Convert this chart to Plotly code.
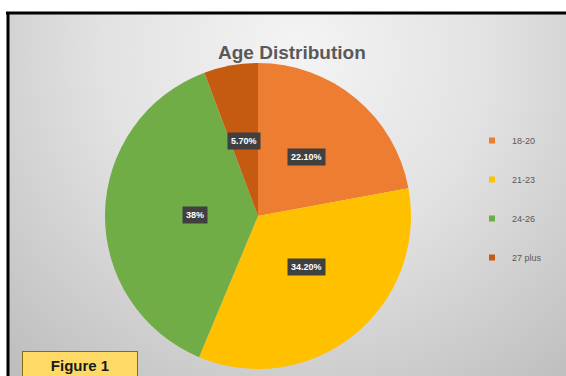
import math
import base64
import plotly.graph_objects as go

# ---- data ----
categories = ["18-20", "21-23", "24-26", "27 plus"]
shares = [22.10, 34.20, 38.0, 5.70]
label_texts = ["22.10%", "34.20%", "38%", "5.70%"]
colors = ["#ED7D31", "#FFC000", "#70AD47", "#C55A11"]
title_text = "Age Distribution"
figure_tag = "Figure 1"

W, H = 566, 376
# pie geometry (pixels)
CX, CY, R = 258, 216, 153

fig = go.Figure()

fig.add_trace(go.Pie(
    labels=categories,
    values=shares,
    marker=dict(colors=colors, line=dict(width=0)),
    sort=False,
    direction="clockwise",
    rotation=0,
    textinfo="none",
    hoverinfo="label+percent",
    showlegend=False,
    domain=dict(x=[(CX - R) / W, (CX + R) / W], y=[1 - (CY + R) / H, 1 - (CY - R) / H]),
))

# legend entries (one per category) using invisible points
for i, (cat, col) in enumerate(zip(categories, colors)):
    fig.add_trace(go.Scatter(
        x=[None], y=[None], mode="markers", name=cat,
        legendgroup=cat,
        marker=dict(symbol="square", size=6, color=col),
    ))

# data labels at mid-angle, half radius (Excel "center" style)
total = sum(shares)
cum = 0.0
annotations = []
for val, txt in zip(shares, label_texts):
    mid = (cum + val / 2) / total * 2 * math.pi
    cum += val
    px = CX + 0.5 * R * math.sin(mid)
    py = CY - 0.5 * R * math.cos(mid)
    annotations.append(dict(
        x=px / W, y=1 - py / H, xref="paper", yref="paper",
        text="<b>" + txt + "</b>", showarrow=False,
        font=dict(family="Liberation Sans, Arial", size=9, color="white"),
        bgcolor="#404040", borderpad=3,
    ))

annotations.append(dict(
    x=292 / W, y=1 - 40 / H, xref="paper", yref="paper",
    text="<b>" + title_text + "</b>", showarrow=False,
    font=dict(family="Liberation Sans, Arial", size=19, color="#595959"),
))

annotations.append(dict(
    x=22 / W, y=1 - 351 / H, xref="paper", yref="paper",
    xanchor="left", yanchor="top",
    text="<b>" + figure_tag + "</b>", showarrow=False,
    width=112, height=24, align="center", valign="middle",
    font=dict(family="Liberation Sans, Arial", size=15, color="#1a1a1a"),
    bgcolor="#FFD966", bordercolor="#8a6a10", borderwidth=1,
))

# background radial gradient
svg = (
    '<svg xmlns="http://www.w3.org/2000/svg" width="558" height="363" viewBox="0 0 558 363">'
    '<defs><radialGradient id="g" cx="290" cy="40" r="430" gradientUnits="userSpaceOnUse">'
    '<stop offset="0" stop-color="#f4f4f4"/>'
    '<stop offset="0.45" stop-color="#e2e2e2"/>'
    '<stop offset="1" stop-color="#bdbdbd"/>'
    '</radialGradient></defs>'
    '<rect width="558" height="363" fill="url(#g)"/></svg>'
)
src = "data:image/svg+xml;base64," + base64.b64encode(svg.encode()).decode()

fig.update_layout(
    width=W, height=H,
    margin=dict(l=0, r=0, t=0, b=0),
    paper_bgcolor="white",
    plot_bgcolor="rgba(0,0,0,0)",
    xaxis=dict(visible=False),
    yaxis=dict(visible=False),
    showlegend=True,
    legend=dict(
        x=472 / W, y=1 - 126 / H, xanchor="left", yanchor="top",
        font=dict(family="Liberation Sans, Arial", size=9, color="#595959"),
        tracegroupgap=20, itemwidth=30,
        bgcolor="rgba(0,0,0,0)",
    ),
    images=[dict(
        source=src, xref="paper", yref="paper",
        x=8 / W, y=1 - 13 / H, sizex=(W - 8) / W, sizey=(H - 13) / H,
        xanchor="left", yanchor="top", sizing="stretch", layer="below",
    )],
    shapes=[
        dict(type="line", xref="paper", yref="paper",
             x0=6 / W, x1=1, y0=1 - 13 / H, y1=1 - 13 / H,
             line=dict(color="black", width=3)),
        dict(type="line", xref="paper", yref="paper",
             x0=8 / W, x1=8 / W, y0=0, y1=1 - 12 / H,
             line=dict(color="black", width=3)),
    ],
    annotations=annotations,
)

fig.write_html(
    "out.html",
    config={"displayModeBar": False},
    post_script="document.body.style.margin='0';document.body.style.overflow='hidden';",
)
